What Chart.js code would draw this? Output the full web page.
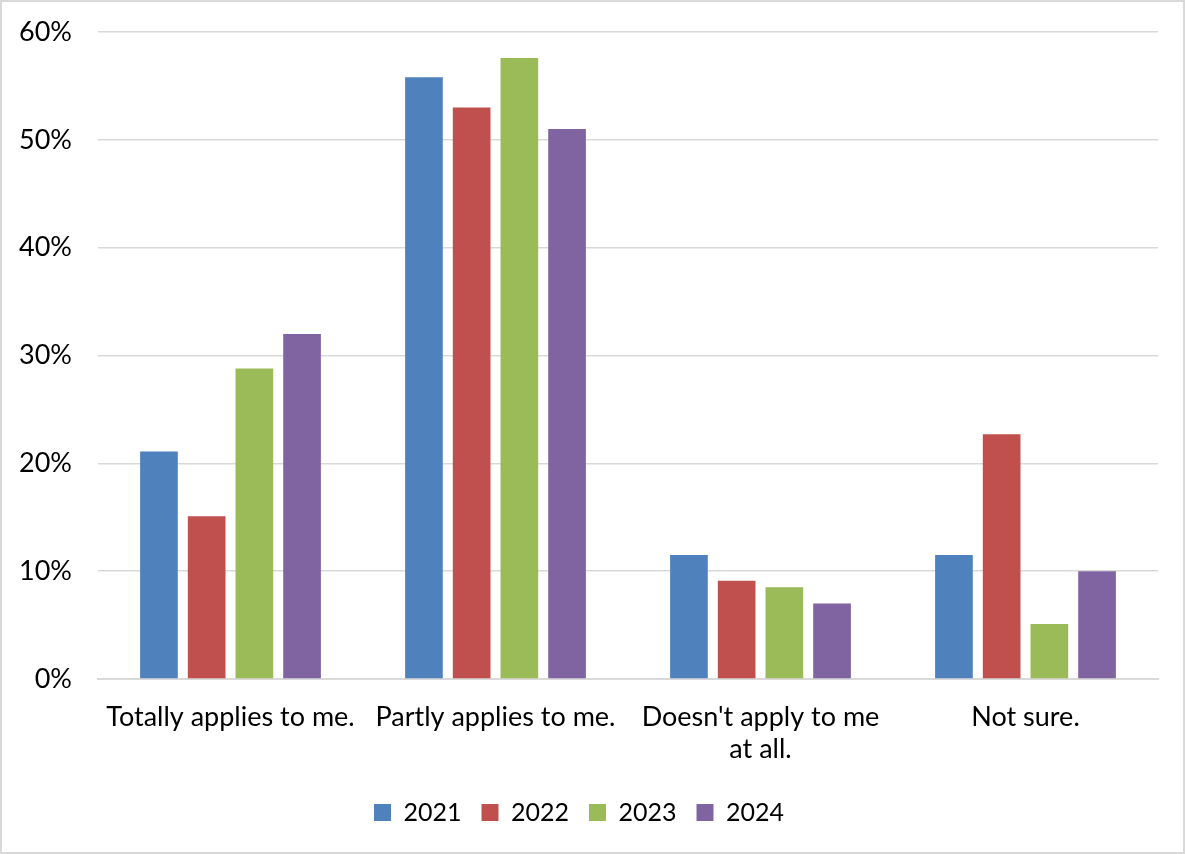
<!DOCTYPE html>
<html>
<head>
<meta charset="utf-8">
<script src="https://cdn.jsdelivr.net/npm/chart.js@4.4.1/dist/chart.umd.min.js"></script>
<style>
  html, body { margin: 0; padding: 0; background: #fff; }
  #wrap { position: relative; width: 1185px; height: 854px; }
  #frame { position: absolute; left: 0; top: 0; right: 0; bottom: 0; border: 2px solid #d9d9d9; pointer-events: none; }
</style>
</head>
<body>
<div id="wrap">
  <canvas id="surveyChart" width="1185" height="854"></canvas>
  <div id="frame"></div>
</div>
<script>
// Data lifted from the chart (percent)
const categories = [
    'Totally applies to me.',
    'Partly applies to me.',
    ["Doesn't apply to me", 'at all.'],
    'Not sure.'
];
const years = ['2021', '2022', '2023', '2024'];
const values2021 = [21.1, 55.8, 11.5, 11.5];
const values2022 = [15.1, 53.0, 9.1, 22.7];
const values2023 = [28.8, 57.6, 8.5, 5.1];
const values2024 = [32.0, 51.0, 7.0, 10.0];
const yearColors = ['#4f81bd', '#c0504d', '#9bbb59', '#8064a2'];

document.addEventListener('DOMContentLoaded', function () {
    const ctx = document.getElementById('surveyChart').getContext('2d');
    const allValues = [values2021, values2022, values2023, values2024];
    const FONT = "Lato, 'Open Sans', sans-serif";

    new Chart(ctx, {
        type: 'bar',
        data: {
            labels: categories,
            datasets: years.map((y, i) => ({
                label: y,
                data: allValues[i],
                backgroundColor: yearColors[i],
                barPercentage: 0.79,
                categoryPercentage: 0.72
            }))
        },
        options: {
            responsive: false,
            animation: false,
            layout: { padding: { left: 0, top: 32, right: 27, bottom: 19 } },
            plugins: {
                tooltip: { enabled: false },
                legend: {
                    position: 'bottom',
                    labels: {
                        color: '#000',
                        font: { family: FONT, size: 25 },
                        boxWidth: 17,
                        boxHeight: 17,
                        padding: 20
                    }
                }
            },
            scales: {
                x: {
                    grid: { display: false, drawTicks: false },
                    border: { color: '#d9d9d9', width: 2 },
                    ticks: {
                        color: '#000',
                        font: { family: FONT, size: 27 },
                        padding: 22,
                        maxRotation: 0,
                        autoSkip: false
                    },
                    afterFit: function (scale) { scale.height = 101; }
                },
                y: {
                    min: 0,
                    max: 60,
                    // invisible tick marks push the labels left without adding vertical padding
                    grid: { color: '#d9d9d9', lineWidth: 1.5, drawTicks: true, tickLength: 26, tickColor: 'rgba(0,0,0,0)' },
                    border: { display: false },
                    ticks: {
                        stepSize: 10,
                        color: '#000',
                        font: { family: FONT, size: 27 },
                        padding: 0,
                        callback: v => v + '%'
                    },
                    afterFit: function (scale) { scale.width = 98; }
                }
            }
        }
    });
});
</script>
</body>
</html>
